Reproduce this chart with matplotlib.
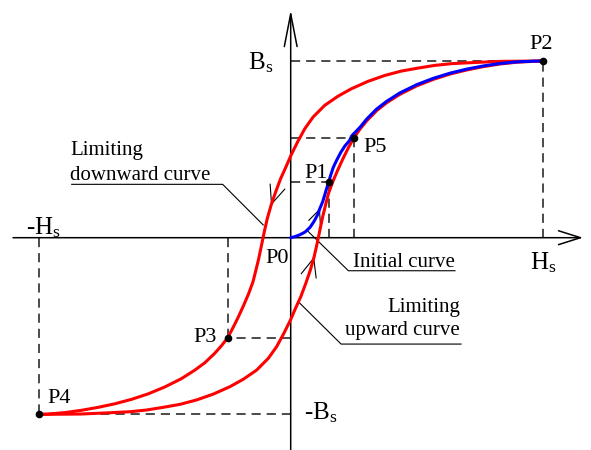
import numpy as np
import matplotlib.pyplot as plt

plt.rcParams['font.family'] = ['Liberation Serif', 'DejaVu Serif']
plt.rcParams['mathtext.fontset'] = 'stix'

# Curvas de histéresis (H normalizado a Hs, B normalizado a Bs)
# Curva límite descendente: de P2 a P4
H_down = [1.0, 0.836, 0.737, 0.638, 0.571, 0.506, 0.439, 0.373, 0.307, 0.241, 0.188,
          0.135, 0.089, 0.056, 0.027, 0.0, -0.019, -0.040, -0.060, -0.078, -0.093,
          -0.105, -0.116, -0.127, -0.140, -0.150, -0.167, -0.188, -0.210, -0.230, -0.25,
          -0.275, -0.302, -0.341, -0.381, -0.434, -0.5, -0.566, -0.632, -0.698, -0.764,
          -0.831, -0.897, -0.963, -1.0]
B_down = [1.0, 0.998, 0.992, 0.985, 0.975, 0.960, 0.943, 0.918, 0.885, 0.843, 0.801,
          0.749, 0.683, 0.617, 0.541, 0.463, 0.400, 0.334, 0.258, 0.183, 0.108,
          0.032, -0.044, -0.119, -0.195, -0.251, -0.317, -0.387, -0.455, -0.512, -0.566,
          -0.612, -0.655, -0.708, -0.750, -0.798, -0.845, -0.884, -0.915, -0.940, -0.960,
          -0.977, -0.990, -0.998, -1.0]

# Curva límite ascendente: de P4 a P2
H_up = [-1.0, -0.836, -0.737, -0.638, -0.571, -0.506, -0.439, -0.373, -0.307, -0.241,
        -0.188, -0.135, -0.089, -0.056, -0.027, 0.0, 0.019, 0.040, 0.060, 0.078, 0.093,
        0.105, 0.116, 0.127, 0.140, 0.150, 0.167, 0.188, 0.210, 0.230, 0.25,
        0.275, 0.302, 0.341, 0.381, 0.434, 0.5, 0.566, 0.632, 0.698, 0.764,
        0.831, 0.897, 0.963, 1.0]
B_up = [-1.0, -0.998, -0.992, -0.985, -0.975, -0.960, -0.943, -0.918, -0.885, -0.843,
        -0.801, -0.749, -0.683, -0.617, -0.541, -0.463, -0.400, -0.334, -0.258, -0.183, -0.108,
        -0.032, 0.044, 0.119, 0.195, 0.251, 0.317, 0.387, 0.455, 0.512, 0.563,
        0.615, 0.662, 0.719, 0.764, 0.812, 0.859, 0.896, 0.926, 0.949, 0.968,
        0.983, 0.993, 0.998, 1.0]

# Curva inicial: de P0 a P2
H_init = [0.0, 0.017, 0.037, 0.057, 0.077, 0.092, 0.106, 0.116, 0.127, 0.136, 0.144,
          0.151, 0.159, 0.169, 0.183, 0.198, 0.215, 0.233, 0.242, 0.275, 0.302, 0.341,
          0.381, 0.434, 0.5, 0.566, 0.632, 0.698, 0.764, 0.831, 0.897, 0.963, 1.0]
B_init = [0.0, 0.006, 0.017, 0.032, 0.059, 0.091, 0.128, 0.166, 0.204, 0.247, 0.285,
          0.317, 0.355, 0.398, 0.440, 0.481, 0.519, 0.549, 0.576, 0.625, 0.672, 0.728,
          0.772, 0.820, 0.866, 0.902, 0.931, 0.954, 0.972, 0.986, 0.995, 0.999, 1.0]

# Puntos marcados
pt_names = ['P1', 'P2', 'P3', 'P4', 'P5']
pt_H = [0.151, 1.0, -0.25, -1.0, 0.25]
pt_B = [0.317, 1.0, -0.566, -1.0, 0.563]

fig = plt.figure(figsize=(5.91, 4.5), dpi=100)
ax = fig.add_axes([0, 0, 1, 1])
ax.set_xlim(-1.1536, 1.1917)
ax.set_ylim(-1.2015, 1.3452)
ax.axis('off')

# ejes con flecha abierta
ax.annotate('', xy=(1.160, 0), xytext=(-1.102, 0),
            arrowprops=dict(arrowstyle='->,head_length=1.58,head_width=0.5',
                            lw=1.1, color='k', shrinkA=0, shrinkB=0))
ax.annotate('', xy=(0, 1.289), xytext=(0, -1.2015),
            arrowprops=dict(arrowstyle='->,head_length=2.35,head_width=0.46',
                            lw=1.1, color='k', shrinkA=0, shrinkB=0))

# líneas discontinuas hacia los ejes
dash_kw = dict(color='#1a1a1a', lw=1.1, dashes=(6.0, 3.9), zorder=1)
for h, b in zip(pt_H, pt_B):
    ax.plot([0, h], [b, b], **dash_kw)
    ax.plot([h, h], [0, b], **dash_kw)

# curvas
line_kw = dict(lw=2.2, solid_capstyle='round', solid_joinstyle='round')
ax.plot(H_down, B_down, color='#ff0000', zorder=4, **line_kw)
ax.plot(H_up, B_up, color='#ff0000', zorder=4, **line_kw)
ax.plot(H_init, B_init, color='#0000ff', zorder=5, **line_kw)
ax.plot(pt_H, pt_B, 'o', color='k', ms=4.5, zorder=6)


def curve_arrow(hs, bs, i, hl, hw):
    tip = (hs[i], bs[i])
    back = (hs[i] + 0.05 * (hs[i - 1] - hs[i]), bs[i] + 0.05 * (bs[i - 1] - bs[i]))
    ax.annotate('', xy=tip, xytext=back,
                arrowprops=dict(arrowstyle=f'->,head_length={hl},head_width={hw}',
                                color='k', lw=0.8, shrinkA=0, shrinkB=0), zorder=3)


curve_arrow(H_down, B_down, 19, 1.33, 0.56)
curve_arrow(H_up, B_up, 20, 1.33, 0.56)
curve_arrow(H_init, B_init, 7, 1.0, 0.45)

# líneas guía de las etiquetas
lead_kw = dict(color='k', lw=0.8, zorder=2)
ax.plot([-0.869, -0.270, -0.109], [0.302, 0.302, 0.072], **lead_kw)
ax.plot([0.652, 0.229, 0.063], [-0.187, -0.187, 0.044], **lead_kw)
ax.plot([0.676, 0.2, 0.030], [-0.602, -0.602, -0.362], **lead_kw)

txt = dict(fontsize=15, va='baseline')
ax.text(-0.876, 0.468, 'Limiting', ha='left', **txt)
ax.text(-0.876, 0.327, 'downward curve', ha='left', **txt)
ax.text(0.246, -0.166, 'Initial curve', ha='left', **txt)
ax.text(0.672, -0.420, 'Limiting', ha='right', **txt)
ax.text(0.672, -0.551, 'upward curve', ha='right', **txt)

pt_lbl = dict(fontsize=16, va='baseline', ha='left')
ax.text(0.946, 1.068, 'P2', **pt_lbl)
ax.text(0.287, 0.485, 'P5', **pt_lbl)
ax.text(0.053, 0.338, 'P1', **pt_lbl)
ax.text(-0.102, -0.143, 'P0', **pt_lbl)
ax.text(-0.388, -0.590, 'P3', **pt_lbl)
ax.text(-0.967, -0.935, 'P4', **pt_lbl)

ax_lbl = dict(fontsize=18, va='baseline', ha='left')
ax.text(-0.169, 0.949, r'B$_{\mathregular{s}}$', **ax_lbl)
ax.text(0.950, -0.183, r'H$_{\mathregular{s}}$', **ax_lbl)
ax.text(-1.05, 0.015, r'-H$_{\mathregular{s}}$', **ax_lbl)
ax.text(0.053, -1.032, r'-B$_{\mathregular{s}}$', **ax_lbl)

fig.savefig('out.png', dpi=100)
